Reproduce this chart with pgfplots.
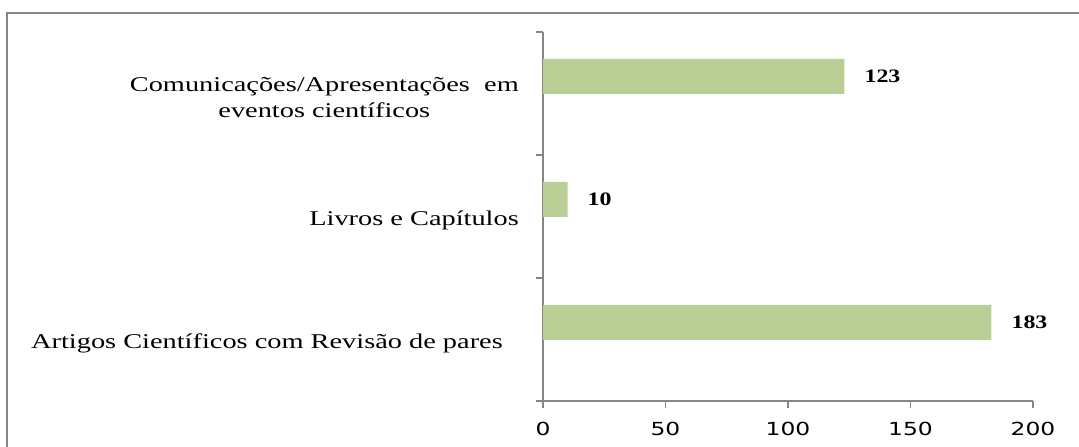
\documentclass[border=0pt]{standalone}
\usepackage{pgfplots}
\pgfplotsset{compat=1.18}
\usepackage{fontspec}
\setmainfont{Liberation Serif}
\newfontfamily\catfont[FakeStretch=1.35]{Liberation Serif}
\newfontfamily\valfont[FakeStretch=1.26]{Liberation Serif}
\newfontfamily\tickfont[FakeStretch=1.3]{DejaVu Sans}
\definecolor{bargreen}{RGB}{186,207,150}
\definecolor{axgray}{RGB}{134,134,134}
\begin{document}
\begin{tikzpicture}
\useasboundingbox (0,0) rectangle (1079bp,447bp);
\draw[axgray, line width=1.5bp] (7bp,0) -- (7bp,434bp) -- (1079bp,434bp);
\begin{axis}[
  at={(543bp,46bp)}, anchor=south west,
  scale only axis, width=490bp, height=369bp,
  xbar, bar width=35bp, bar shift=17bp,
  xmin=0, xmax=200, ymin=-0.5, ymax=2.5,
  axis x line*=bottom, axis y line*=left,
  axis line style={axgray, line width=1.2bp},
  tick align=outside, major tick length=7bp,
  xtick={0,50,100,150,200},
  xticklabels={0,50,100,150,200},
  xtick style={axgray, line width=1.2bp},
  xticklabel style={font=\tickfont\fontsize{18bp}{20bp}\selectfont, inner sep=0pt, anchor=north, yshift=-14bp},
  ytick={0,1,2},
  yticklabels={Artigos Científicos\ com\ Revisão\ de pares\hspace*{16bp}, Livros e Capítulos, {Comunicações/Apresentações\ \ em\\eventos científicos}},
  ytick style={draw=none},
  yticklabel style={font=\catfont\fontsize{21bp}{26bp}\selectfont, align=center, inner sep=0pt, anchor=east, xshift=-17bp, yshift=-4bp},
  extra y ticks={-0.5,0.5,1.5,2.5},
  extra y tick labels={},
  extra y tick style={ytick style={draw=axgray, line width=1.2bp}},
  nodes near coords={\pgfmathprintnumber[assume math mode=true]{\pgfplotspointmeta}},
  every node near coord/.append style={font=\valfont\bfseries\fontsize{19bp}{22bp}\selectfont, anchor=west, inner sep=0pt, xshift=20bp, text=black},
  clip=false,
]
\addplot[fill=bargreen, draw=none] coordinates {(183,0) (10,1) (123,2)};
\end{axis}
\end{tikzpicture}
\end{document}
